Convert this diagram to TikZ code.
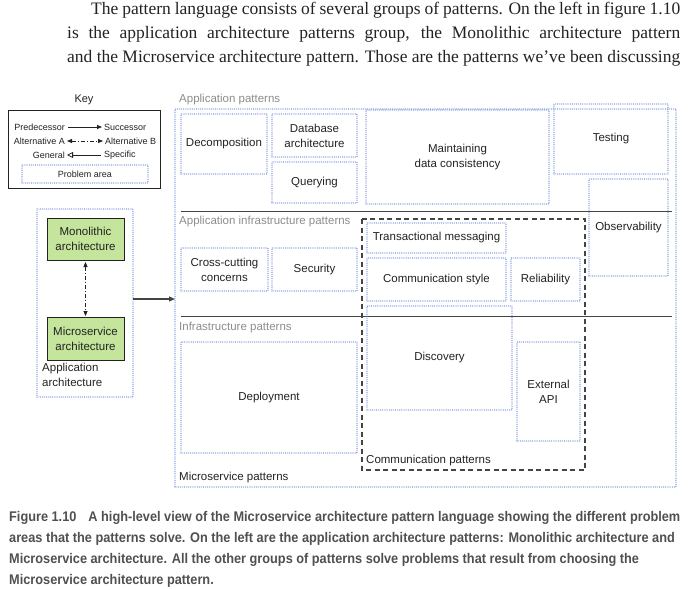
\documentclass[tikz,border=0pt]{standalone}
\usepackage{fontspec}
\setmainfont{Liberation Sans}
\newfontfamily\bodyfont{Liberation Serif}
\newfontfamily\capfont[FakeStretch=0.91]{Liberation Sans}
\usetikzlibrary{arrows.meta,calc}
\definecolor{dotblue}{HTML}{5A7BD4}
\definecolor{grn}{HTML}{C4E59B}
\definecolor{grp}{HTML}{8C8C8C}
\definecolor{capgray}{HTML}{505050}
\definecolor{ink}{HTML}{222222}
\definecolor{rule}{HTML}{444444}
\newcommand\pfont{\fontsize{11.5}{15}\selectfont}
\newcommand\kfont{\fontsize{9}{11}\selectfont}
\newcommand\bfnt{\bodyfont\fontsize{17.5}{24}\selectfont}
\newcommand\cfnt{\capfont\bfseries\fontsize{14}{16}\selectfont}
\begin{document}
\begin{tikzpicture}[x=1pt,y=-1pt,
  pa/.style={draw=dotblue, line width=1.15pt, line cap=round, dash pattern=on 0pt off 1.9pt,
    inner sep=0pt, outer sep=0pt, anchor=north west, font=\pfont, align=center, text=ink},
  grplabel/.style={anchor=west, inner sep=0pt, font=\fontsize{11.5}{14}\selectfont, text=grp},
  blklabel/.style={anchor=west, inner sep=0pt, font=\pfont, text=ink},
  archbox/.style={draw=ink, line width=0.9pt, fill=grn, inner sep=0pt, outer sep=0pt,
    anchor=north west, font=\pfont, align=center, text=ink},
  keytext/.style={inner sep=0pt, font=\kfont, text=ink},
  divider/.style={draw=rule, line width=1pt},
  altarrow/.style={draw=ink, line width=0.8pt, dash pattern=on 4pt off 2pt on 1pt off 2pt,
    {Triangle[length=5pt,width=4pt]}-{Triangle[length=5pt,width=4pt]}},
  bodyline/.style={anchor=base west, inner sep=0pt, font=\bfnt, text=ink},
  capline/.style={anchor=base west, inner sep=0pt, font=\cfnt, text=capgray},
]
\useasboundingbox (0,0) rectangle (690,589);

% ---- body text
\node[bodyline] (b1) at (91,14) {\hbox to 589pt{The pattern language consists of several groups of patterns. On the left in figure 1.10}};
\node[bodyline] (b2) at (67,38) {\hbox to 613pt{is the application architecture patterns group, the Monolithic architecture pattern}};
\node[bodyline] (b3) at (67,62) {\hbox to 613pt{and the Microservice architecture pattern. Those are the patterns we’ve been discussing}};

% ---- key
\node[font=\fontsize{11}{13}\selectfont, text=ink, inner sep=0pt] (keyt) at (84,100) {Key};
\draw[draw=ink, line width=0.9pt] (8,110) rectangle (160,188);
\node[keytext, anchor=east] (pred) at (65,127) {Predecessor};
\node[keytext, anchor=west] (succ) at (104,127) {Successor};
\node[keytext, anchor=east] (alta) at (65,141) {Alternative A};
\node[keytext, anchor=west] (altb) at (105,141) {Alternative B};
\node[keytext, anchor=east] (gen) at (65,155) {General};
\node[keytext, anchor=west] (spec) at (104,155) {Specific};
\draw[draw=ink, line width=0.8pt, -{Triangle[length=5pt,width=4pt]}, shorten <=3pt, shorten >=2pt] (pred.east) -- (succ.west);
\draw[altarrow, shorten <=2pt, shorten >=2pt] (alta.east) -- (altb.west);
\draw[draw=ink, line width=0.8pt, {Triangle[open,length=6pt,width=6pt]}-, shorten <=2pt, shorten >=3pt] (gen.east) -- (spec.west);
\node[pa, minimum width=126pt, minimum height=18pt, font=\kfont] (parea) at (22,165) {Problem area};

% ---- application architecture
\node[pa, minimum width=96pt, minimum height=188pt] (apparch) at (37,209) {};
\node[archbox, minimum width=77pt, minimum height=42pt] (mono) at (47,218) {Monolithic\\architecture};
\node[archbox, minimum width=77pt, minimum height=43pt] (micro) at (47,317) {Microservice\\architecture};
\draw[altarrow, shorten <=2pt, shorten >=1pt] (mono.south) -- (micro.north);
\node[blklabel, anchor=north west, align=left] (aalabel) at (42,363) {Application\\architecture};

% ---- microservice patterns outer
\node[pa, minimum width=501pt, minimum height=378pt] (outer) at (175,109) {};
\draw[draw=rule, line width=1.3pt, -{Triangle[length=6pt,width=5pt]}] ([yshift=4pt]apparch.east) -- ([yshift=4pt]apparch.east -| outer.west);

\node[grplabel] (lapp) at (179,100) {Application patterns};
\node[grplabel] (linf) at (179,222) {Application infrastructure patterns};
\node[grplabel] (lin) at (179,328) {Infrastructure patterns};
\node[blklabel] (lms) at (179,478) {Microservice patterns};

\draw[divider] (181,211) -- (672,211);
\draw[divider] (181,316) -- (672,316);

% ---- application patterns
\node[pa, minimum width=86pt, minimum height=60pt] (decomp) at (181,114) {Decomposition};
\node[pa, minimum width=85pt, minimum height=43pt] (dbarch) at (272,114) {Database\\architecture};
\node[pa, minimum width=85pt, minimum height=41pt] (query) at (272,162) {Querying};
\node[pa, minimum width=183pt, minimum height=94pt] (maint) at (366,110) {Maintaining\\data consistency};
\node[pa, minimum width=114pt, minimum height=70pt] (testing) at (554,104) {Testing};
\node[pa, minimum width=79pt, minimum height=97pt] (observ) at (589,179) {Observability};

% ---- application infrastructure patterns
\node[pa, minimum width=87pt, minimum height=43pt] (cross) at (181,248) {Cross-cutting\\concerns};
\node[pa, minimum width=85pt, minimum height=43pt] (secur) at (272,248) {Security};

% ---- communication patterns
\draw[draw=rule, line width=1.2pt, dash pattern=on 5pt off 3.5pt] (362,219) rectangle (585,470);
\node[blklabel] (lcomm) at (366,461) {Communication patterns};
\node[pa, minimum width=139pt, minimum height=30pt] (transm) at (367,223) {Transactional messaging};
\node[pa, minimum width=139pt, minimum height=43pt] (commst) at (367,258) {Communication style};
\node[pa, minimum width=69pt, minimum height=43pt] (reliab) at (511,258) {Reliability};
\node[pa, minimum width=145pt, minimum height=104pt] (discov) at (367,306) {Discovery};
\node[pa, minimum width=63pt, minimum height=99pt] (extapi) at (517,342) {External\\API};

% ---- infrastructure patterns
\node[pa, minimum width=176pt, minimum height=111pt] (deploy) at (181,342) {Deployment};

% ---- caption
\node[capline] (c1) at (9,521) {Figure 1.10\hspace{12pt}A high-level view of the Microservice architecture pattern language showing the different problem};
\node[capline] (c2) at (9,542) {areas that the patterns solve. On the left are the application architecture patterns: Monolithic architecture and};
\node[capline] (c3) at (9,563) {Microservice architecture. All the other groups of patterns solve problems that result from choosing the};
\node[capline] (c4) at (9,584) {Microservice architecture pattern.};
\end{tikzpicture}
\end{document}
